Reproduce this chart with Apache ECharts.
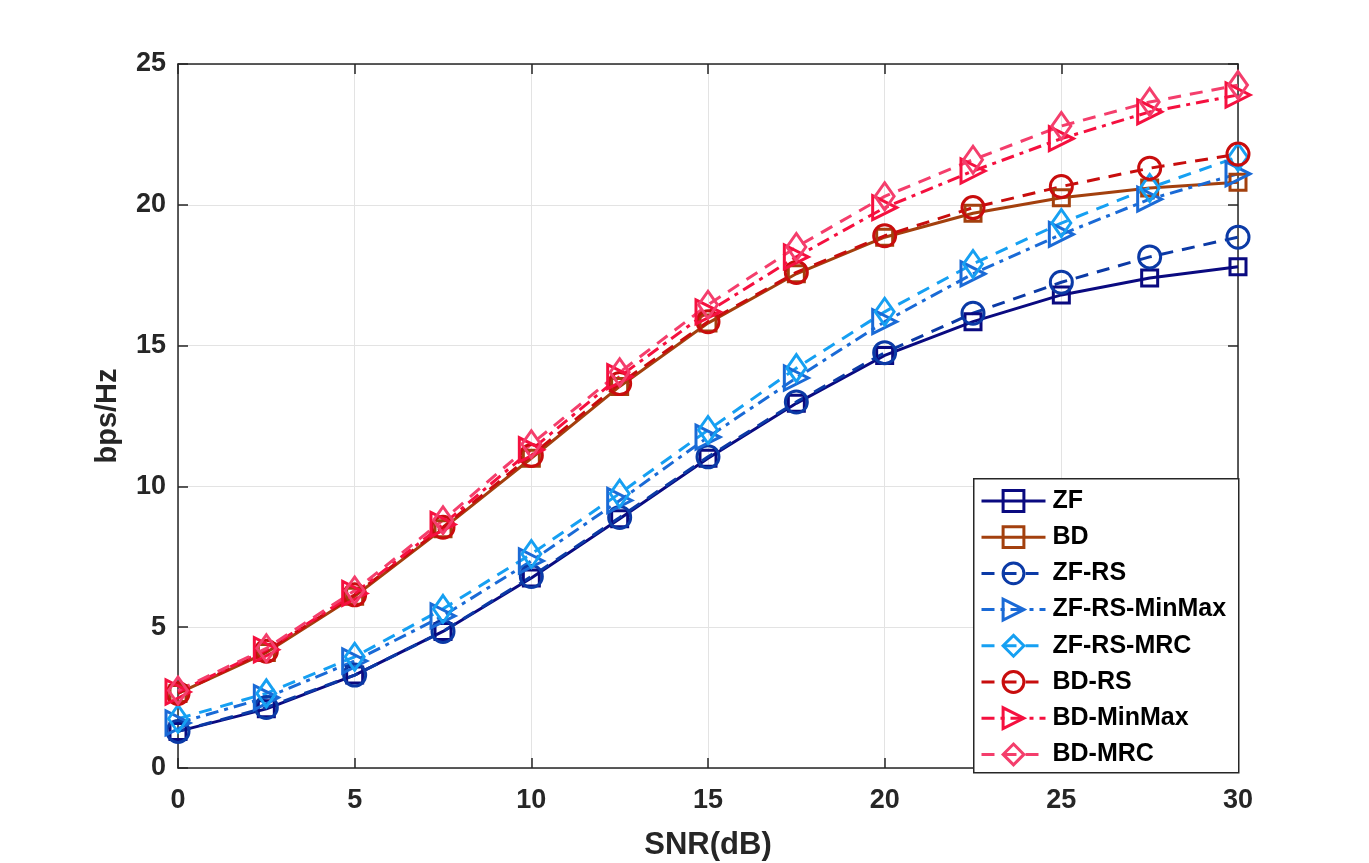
<!DOCTYPE html>
<html>
<head>
<meta charset="utf-8">
<script src="https://cdn.jsdelivr.net/npm/echarts@6/dist/echarts.min.js"></script>
<style>
  html, body { margin: 0; padding: 0; background: #fff; }
  #chart { width: 1369px; height: 863px; }
</style>
</head>
<body>
<div id="chart"></div>
<script>
const snrValues = [0, 2.5, 5, 7.5, 10, 12.5, 15, 17.5, 20, 22.5, 25, 27.5, 30];
const xTicks = [0, 5, 10, 15, 20, 25, 30];
const yTicks = [0, 5, 10, 15, 20, 25];

const zf = [1.3, 2.1, 3.3, 4.85, 6.75, 8.85, 11.0, 12.95, 14.65, 15.85, 16.8, 17.4, 17.8];
const bd = [2.65, 4.1, 6.1, 8.5, 11.0, 13.55, 15.8, 17.55, 18.85, 19.7, 20.25, 20.6, 20.8];
const zfRs = [1.3, 2.15, 3.3, 4.85, 6.8, 8.9, 11.05, 13.0, 14.75, 16.15, 17.25, 18.15, 18.85];
const zfRsMinMax = [1.6, 2.5, 3.8, 5.4, 7.35, 9.5, 11.75, 13.85, 15.85, 17.55, 18.95, 20.2, 21.1];
const zfRsMrc = [1.75, 2.65, 3.95, 5.65, 7.6, 9.75, 12.0, 14.2, 16.2, 17.9, 19.35, 20.6, 21.7];
const bdRs = [2.65, 4.15, 6.15, 8.55, 11.1, 13.65, 15.85, 17.6, 18.9, 19.9, 20.65, 21.3, 21.8];
const bdMinMax = [2.7, 4.2, 6.2, 8.65, 11.3, 13.9, 16.2, 18.15, 19.9, 21.2, 22.35, 23.3, 23.9];
const bdMrc = [2.75, 4.25, 6.3, 8.8, 11.5, 14.05, 16.45, 18.5, 20.3, 21.6, 22.8, 23.65, 24.25];

const SOLID = "solid";
const DASHED = [13, 9];
const DASH_DOT = [13, 6, 4, 6];
const FONT = "Liberation Sans, Arial, sans-serif";
const AXIS_COLOR = "#262626";

const seriesDefs = [
  { name: "ZF", data: zf, color: "#0a0a80", symbol: "rect", rotate: 0, dash: SOLID },
  { name: "BD", data: bd, color: "#a3400e", symbol: "rect", rotate: 0, dash: SOLID },
  { name: "ZF-RS", data: zfRs, color: "#0b3aa6", symbol: "circle", rotate: 0, dash: DASHED },
  { name: "ZF-RS-MinMax", data: zfRsMinMax, color: "#1a6ad6", symbol: "triangle", rotate: -90, dash: DASH_DOT },
  { name: "ZF-RS-MRC", data: zfRsMrc, color: "#16a0f2", symbol: "diamond", rotate: 0, dash: DASHED },
  { name: "BD-RS", data: bdRs, color: "#c80d0d", symbol: "circle", rotate: 0, dash: DASHED },
  { name: "BD-MinMax", data: bdMinMax, color: "#f5103f", symbol: "triangle", rotate: -90, dash: DASH_DOT },
  { name: "BD-MRC", data: bdMrc, color: "#f43e6c", symbol: "diamond", rotate: 0, dash: DASHED },
];

function symbolSize(symbol) {
  if (symbol === "rect") return 16;
  if (symbol === "circle") return 22;
  if (symbol === "diamond") return [19, 27];
  return 24;
}

const series = seriesDefs.map((def) => ({
  name: def.name,
  type: "line",
  data: def.data.map((v, i) => [snrValues[i], v]),
  symbol: def.symbol,
  symbolRotate: def.rotate,
  symbolSize: symbolSize(def.symbol),
  showAllSymbol: true,
  color: def.color,
  lineStyle: { color: def.color, width: 3, type: def.dash },
  itemStyle: { color: "rgba(255,255,255,0)", borderColor: def.color, borderWidth: 3 },
  emphasis: { disabled: true },
  z: 3,
}));

function frameAxis(extra) {
  return Object.assign({
    type: "value",
    axisLine: { show: true, onZero: false, lineStyle: { color: AXIS_COLOR, width: 1.5 } },
    axisTick: { show: true, inside: true, length: 10, lineStyle: { color: AXIS_COLOR, width: 1.5 } },
    axisLabel: { show: false },
    splitLine: { show: false },
  }, extra);
}

const labelStyle = { color: AXIS_COLOR, fontSize: 27, fontWeight: "bold", fontFamily: FONT };

const chart = echarts.init(document.getElementById("chart"), null, { renderer: "canvas" });
chart.setOption({
  animation: false,
  backgroundColor: "#ffffff",
  grid: { left: 178, right: 131, top: 64, bottom: 95, containLabel: false, outerBoundsMode: "none" },
  graphic: [
    {
      type: "rect",
      left: 973,
      top: 478,
      shape: { width: 265, height: 294 },
      style: { fill: "#ffffff", stroke: AXIS_COLOR, lineWidth: 1.5 },
      z: 8,
    },
  ],
  legend: {
    orient: "vertical",
    left: 974,
    top: 488,
    padding: [0, 0, 0, 6],
    itemGap: 10.2,
    itemWidth: 64,
    itemHeight: 26,
    lineStyle: { width: 3 },
    itemStyle: { borderWidth: 3 },
    textStyle: { color: "#000", fontSize: 25, fontWeight: "bold", fontFamily: FONT, lineHeight: 26, padding: [0, 0, 0, 2] },
    data: seriesDefs.map((d) => d.name),
    z: 10,
  },
  xAxis: [
    frameAxis({
      min: 0,
      max: 30,
      interval: 5,
      name: "SNR(dB)",
      nameLocation: "middle",
      nameGap: 62,
      nameTextStyle: { color: AXIS_COLOR, fontSize: 31, fontWeight: "bold", fontFamily: FONT },
      axisLabel: { ...labelStyle, margin: 19 },
      splitLine: { show: true, lineStyle: { color: "#e3e3e3", width: 1 } },
    }),
    frameAxis({ position: "top", min: 0, max: 30, interval: 5 }),
  ],
  yAxis: [
    frameAxis({
      min: 0,
      max: 25,
      interval: 5,
      name: "bps/Hz",
      nameLocation: "middle",
      nameGap: 56,
      nameTextStyle: { color: AXIS_COLOR, fontSize: 29, fontWeight: "bold", fontFamily: FONT },
      axisLabel: { ...labelStyle, margin: 12 },
      splitLine: { show: true, lineStyle: { color: "#e3e3e3", width: 1 } },
    }),
    frameAxis({ position: "right", min: 0, max: 25, interval: 5 }),
  ],
  series,
});
</script>
</body>
</html>
